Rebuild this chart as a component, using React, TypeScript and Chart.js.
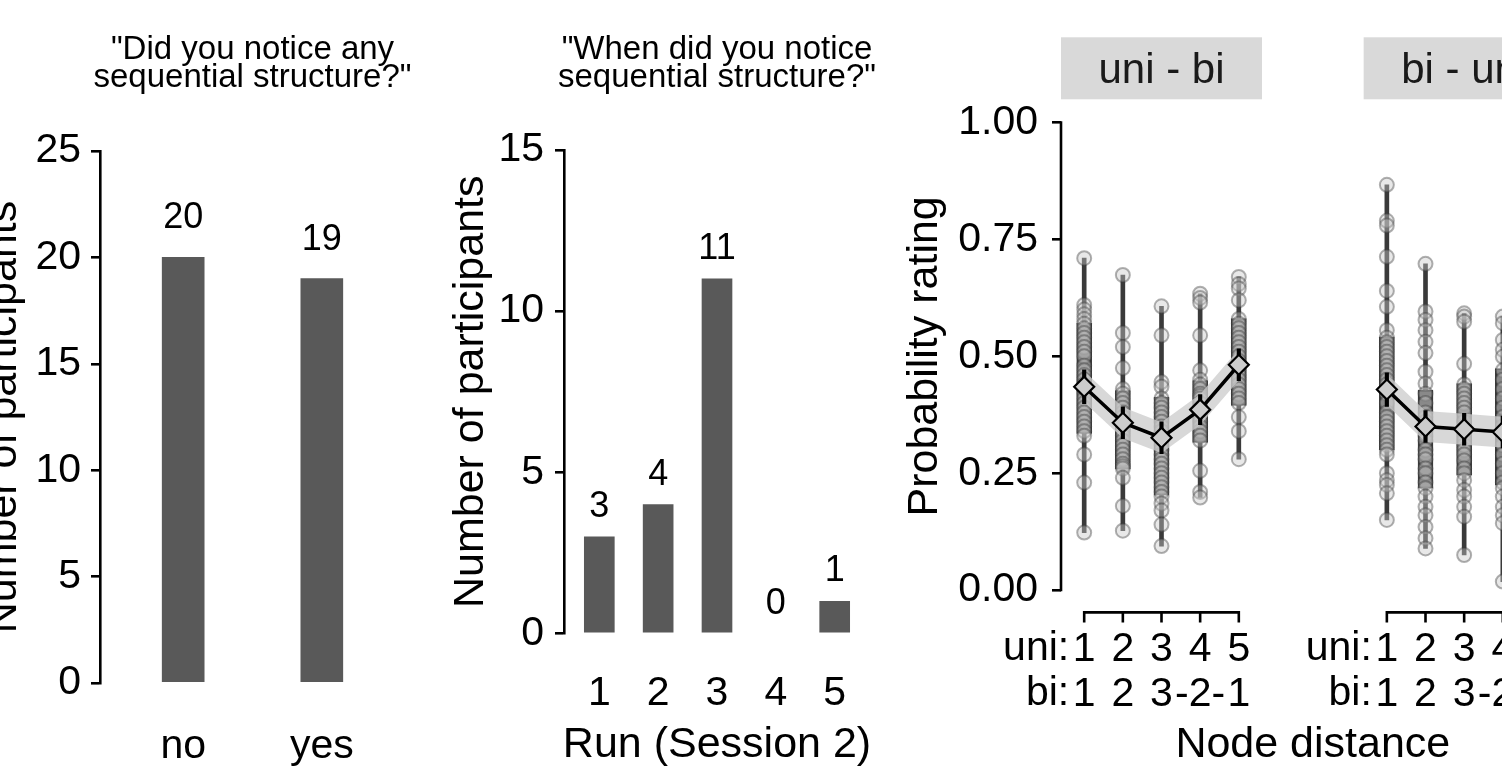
import React, { useEffect, useRef } from 'react';
import { Chart, registerables } from 'chart.js';

Chart.register(...registerables);

const FONT = '"Liberation Sans", Arial, Helvetica, sans-serif';
const BAR_GREY = '#595959';
const LW = 2.6;

// ---- Panel 1: "Did you notice any sequential structure?"
const noticeAnswers = ['no', 'yes'];
const noticeCounts = [20, 19];
const noticeTicks = [0, 5, 10, 15, 20, 25];

// ---- Panel 2: "When did you notice sequential structure?"
const runLabels = ['1', '2', '3', '4', '5'];
const runCounts = [3, 4, 11, 0, 1];
const runTicks = [0, 5, 10, 15];

// ---- Panel 3: probability rating by node distance
const facetNames = ['uni - bi', 'bi - uni'];
const distUniLabels = ['1', '2', '3', '4', '5'];
const distBiLabels = ['1', '2', '3', '-2-', '1'];
const probTicks = [0, 0.25, 0.5, 0.75, 1];

const uniBiMean = [0.435, 0.358, 0.326, 0.386, 0.482];
const uniBiSE = [0.036, 0.034, 0.034, 0.032, 0.034];
const uniBiCI = [0.033, 0.033, 0.033, 0.033, 0.033];
const uniBiQ1 = [0.335, 0.259, 0.203, 0.316, 0.395];
const uniBiQ3 = [0.571, 0.427, 0.413, 0.448, 0.581];
const uniBiMin = [0.123, 0.127, 0.094, 0.198, 0.28];
const uniBiMax = [0.71, 0.674, 0.607, 0.634, 0.67];
const uniBiPoints1 = [0.71, 0.61, 0.6, 0.59, 0.58, 0.57, 0.56, 0.55, 0.54, 0.53, 0.52, 0.51, 0.5, 0.48, 0.47, 0.46, 0.45, 0.44, 0.43, 0.42, 0.41, 0.4, 0.39, 0.38, 0.37, 0.36, 0.35, 0.34, 0.33, 0.29, 0.23, 0.123];
const uniBiPoints2 = [0.674, 0.55, 0.52, 0.475, 0.43, 0.42, 0.41, 0.4, 0.39, 0.38, 0.37, 0.36, 0.35, 0.345, 0.34, 0.33, 0.32, 0.31, 0.3, 0.29, 0.28, 0.27, 0.265, 0.26, 0.24, 0.18, 0.127];
const uniBiPoints3 = [0.607, 0.545, 0.445, 0.435, 0.41, 0.4, 0.39, 0.38, 0.37, 0.36, 0.35, 0.34, 0.32, 0.31, 0.3, 0.29, 0.28, 0.27, 0.26, 0.25, 0.24, 0.23, 0.22, 0.21, 0.2, 0.185, 0.17, 0.14, 0.094];
const uniBiPoints4 = [0.634, 0.625, 0.615, 0.545, 0.47, 0.45, 0.44, 0.43, 0.42, 0.415, 0.41, 0.4, 0.39, 0.38, 0.375, 0.37, 0.36, 0.35, 0.34, 0.33, 0.32, 0.255, 0.21, 0.198];
const uniBiPoints5 = [0.67, 0.655, 0.645, 0.62, 0.58, 0.57, 0.56, 0.55, 0.54, 0.53, 0.52, 0.51, 0.5, 0.49, 0.48, 0.47, 0.46, 0.45, 0.44, 0.43, 0.42, 0.41, 0.4, 0.37, 0.34, 0.28];

const biUniMean = [0.429, 0.35, 0.344, 0.338, 0.42];
const biUniSE = [0.036, 0.034, 0.034, 0.034, 0.034];
const biUniCI = [0.033, 0.033, 0.033, 0.033, 0.033];
const biUniQ1 = [0.3, 0.218, 0.246, 0.225, 0.33];
const biUniQ3 = [0.542, 0.428, 0.442, 0.474, 0.52];
const biUniMin = [0.15, 0.089, 0.075, 0.018, 0.22];
const biUniMax = [0.867, 0.698, 0.592, 0.585, 0.7];
const biUniPoints1 = [0.867, 0.79, 0.78, 0.713, 0.64, 0.606, 0.556, 0.54, 0.53, 0.52, 0.51, 0.5, 0.49, 0.48, 0.47, 0.46, 0.45, 0.44, 0.42, 0.4, 0.38, 0.37, 0.36, 0.35, 0.34, 0.33, 0.32, 0.31, 0.3, 0.29, 0.25, 0.235, 0.225, 0.207, 0.15];
const biUniPoints2 = [0.698, 0.596, 0.578, 0.556, 0.531, 0.507, 0.467, 0.442, 0.42, 0.4, 0.38, 0.37, 0.36, 0.34, 0.33, 0.32, 0.3, 0.29, 0.28, 0.26, 0.25, 0.23, 0.218, 0.2, 0.178, 0.16, 0.135, 0.111, 0.089];
const biUniPoints3 = [0.592, 0.585, 0.574, 0.484, 0.44, 0.43, 0.42, 0.41, 0.4, 0.39, 0.38, 0.36, 0.35, 0.34, 0.33, 0.32, 0.31, 0.3, 0.29, 0.277, 0.26, 0.25, 0.235, 0.214, 0.2, 0.178, 0.157, 0.075];
const biUniPoints4 = [0.585, 0.571, 0.535, 0.514, 0.499, 0.47, 0.45, 0.43, 0.41, 0.39, 0.37, 0.35, 0.33, 0.31, 0.29, 0.27, 0.25, 0.23, 0.218, 0.2, 0.178, 0.16, 0.143, 0.018];
const biUniPoints5 = [0.7, 0.62, 0.55, 0.52, 0.5, 0.48, 0.46, 0.44, 0.42, 0.4, 0.38, 0.36, 0.34, 0.33, 0.3, 0.26, 0.22];

// layout constant: horizontal shift (in x units) of the second facet
const FACET_SHIFT = 7.83;

const facets = [
  { mean: uniBiMean, se: uniBiSE, ci: uniBiCI, q1: uniBiQ1, q3: uniBiQ3, lo: uniBiMin, hi: uniBiMax,
    points: [uniBiPoints1, uniBiPoints2, uniBiPoints3, uniBiPoints4, uniBiPoints5] },
  { mean: biUniMean, se: biUniSE, ci: biUniCI, q1: biUniQ1, q3: biUniQ3, lo: biUniMin, hi: biUniMax,
    points: [biUniPoints1, biUniPoints2, biUniPoints3, biUniPoints4, biUniPoints5] },
];

function text(ctx: CanvasRenderingContext2D, s: string, x: number, y: number, size: number, align: CanvasTextAlign = 'center', color = '#000') {
  ctx.save();
  ctx.font = `${size}px ${FONT}`;
  ctx.fillStyle = color;
  ctx.textAlign = align;
  ctx.textBaseline = 'alphabetic';
  ctx.fillText(s, x, y);
  ctx.restore();
}

function vtext(ctx: CanvasRenderingContext2D, s: string, x: number, y: number, size: number) {
  ctx.save();
  ctx.translate(x, y);
  ctx.rotate(-Math.PI / 2);
  ctx.font = `${size}px ${FONT}`;
  ctx.fillStyle = '#000';
  ctx.textAlign = 'center';
  ctx.textBaseline = 'alphabetic';
  ctx.fillText(s, 0, 0);
  ctx.restore();
}

function yAxis(min: number, max: number, ticks: number[], width: number, padding: number, border: boolean, fmt: (v: number) => string) {
  return {
    type: 'linear', min, max, bounds: 'data',
    afterBuildTicks: (s: any) => { s.ticks = ticks.map((v) => ({ value: v })); },
    afterFit: (s: any) => { s.width = width; },
    grid: { display: true, drawOnChartArea: false, drawTicks: true, tickLength: 9, tickColor: '#000', tickWidth: LW, color: '#000', lineWidth: LW },
    border: { display: border, color: '#000', width: LW },
    ticks: { padding, color: '#000', font: { family: FONT, size: 41 }, callback: (v: any) => fmt(Number(v)) },
  };
}

function xAxis(min: number, max: number, values: number[], labels: (i: number) => any, height: number, padding: number, lineHeight: number) {
  return {
    type: 'linear', min, max, bounds: 'data', offset: false,
    afterBuildTicks: (s: any) => { s.ticks = values.map((v) => ({ value: v })); },
    afterFit: (s: any) => { s.height = height; },
    grid: { display: false, drawTicks: false, offset: false },
    border: { display: false },
    ticks: { autoSkip: false, maxRotation: 0, minRotation: 0, padding, color: '#000', font: { family: FONT, size: 41, lineHeight }, callback: (_v: any, i: number) => labels(i) },
  };
}

const baseOptions = {
  responsive: false,
  animation: false,
  events: [],
  plugins: { legend: { display: false }, tooltip: { enabled: false }, title: { display: false } },
};

function panel1Config(): any {
  const plugin = {
    id: 'panel1Text',
    afterDraw(chart: any) {
      const { ctx, chartArea: ca, scales } = chart;
      const cx = (ca.left + ca.right) / 2;
      text(ctx, '"Did you notice any', cx, 59.3, 33);
      text(ctx, 'sequential structure?"', cx, 87.3, 33);
      vtext(ctx, 'Number of participants', ca.left - 84, (ca.top + ca.bottom) / 2, 43);
      noticeCounts.forEach((c, i) => {
        text(ctx, String(c), scales.x.getPixelForValue(i + 1), scales.y.getPixelForValue(c) - 29, 36);
      });
    },
  };
  return {
    type: 'bar',
    data: {
      datasets: [{
        data: noticeAnswers.map((_, i) => ({ x: i + 1, y: noticeCounts[i] })),
        backgroundColor: BAR_GREY, barThickness: 42, grouped: false,
      }],
    },
    options: {
      ...baseOptions,
      layout: { padding: { left: 0, right: 65, top: 151, bottom: 0 } },
      scales: {
        x: xAxis(0.4, 2.6, noticeAnswers.map((_, i) => i + 1), (i) => noticeAnswers[i], 100, 39, 1.2),
        y: yAxis(0, 25, noticeTicks, 100, 10, true, (v) => String(v)),
      },
    },
    plugins: [plugin],
  };
}

function panel2Config(): any {
  const plugin = {
    id: 'panel2Text',
    afterDraw(chart: any) {
      const { ctx, chartArea: ca, scales } = chart;
      const cx = (ca.left + ca.right) / 2;
      text(ctx, '"When did you notice', cx, 59.3, 33);
      text(ctx, 'sequential structure?"', cx, 87.3, 33);
      vtext(ctx, 'Number of participants', ca.left - 81, (ca.top + ca.bottom) / 2, 43);
      text(ctx, 'Run (Session 2)', cx, 757, 43);
      runCounts.forEach((c, i) => {
        text(ctx, String(c), scales.x.getPixelForValue(i + 1), scales.y.getPixelForValue(c) - 20, 36);
      });
    },
  };
  return {
    type: 'bar',
    data: {
      datasets: [{
        // a zero count has no visible bar
        data: runLabels.map((_, i) => ({ x: i + 1, y: runCounts[i] === 0 ? null : runCounts[i] })),
        backgroundColor: BAR_GREY, barThickness: 30, grouped: false,
      }],
    },
    options: {
      ...baseOptions,
      layout: { padding: { left: 0, right: 20, top: 150, bottom: 0 } },
      scales: {
        x: xAxis(0.4, 5.6, runLabels.map((_, i) => i + 1), (i) => runLabels[i], 149.5, 36, 1.2),
        y: yAxis(0, 15, runTicks, 134, 11, true, (v) => String(v)),
      },
    },
    plugins: [plugin],
  };
}

function panel3Config(): any {
  const datasets: any[] = [];
  facets.forEach((f, fi) => {
    const sh = fi * FACET_SHIFT;
    const xs = f.mean.map((_, i) => i + 1 + sh);
    datasets.push({ type: 'bar', data: xs.map((x, i) => ({ x, y: [f.lo[i], f.hi[i]] })), backgroundColor: '#3a3a3a', barThickness: 4, grouped: false, order: 7 });
    datasets.push({ type: 'bar', data: xs.map((x, i) => ({ x, y: [f.q1[i], f.q3[i]] })), backgroundColor: '#5c5c5c', borderColor: '#383838', borderWidth: 2, borderSkipped: false, barThickness: 15, grouped: false, order: 6 });
    datasets.push({ type: 'scatter', data: f.points.flatMap((arr, i) => arr.map((v) => ({ x: xs[i], y: v }))), pointRadius: 7, pointBackgroundColor: 'rgba(200,200,200,0.42)', pointBorderColor: 'rgba(60,60,60,0.4)', pointBorderWidth: 2, order: 5 });
    datasets.push({ type: 'line', data: xs.map((x, i) => ({ x, y: f.mean[i] - f.ci[i] })), pointRadius: 0, borderWidth: 0, fill: false, order: 4 });
    datasets.push({ type: 'line', data: xs.map((x, i) => ({ x, y: f.mean[i] + f.ci[i] })), pointRadius: 0, borderWidth: 0, fill: '-1', backgroundColor: 'rgba(205,205,205,0.78)', order: 4 });
    datasets.push({ type: 'bar', data: xs.map((x, i) => ({ x, y: [f.mean[i] - f.se[i], f.mean[i] + f.se[i]] })), backgroundColor: '#000', barThickness: 3.5, grouped: false, order: 3 });
    datasets.push({ type: 'line', data: xs.map((x, i) => ({ x, y: f.mean[i] })), borderColor: '#000', borderWidth: 3.5, tension: 0, pointStyle: 'rectRot', pointRadius: 10, pointBackgroundColor: '#cccccc', pointBorderColor: '#000', pointBorderWidth: 2.2, order: 1 });
  });

  const tickValues: number[] = [];
  facets.forEach((_, fi) => distUniLabels.forEach((__, i) => tickValues.push(i + 1 + fi * FACET_SHIFT)));

  const plugin = {
    id: 'panel3Text',
    afterDraw(chart: any) {
      const { ctx, chartArea: ca, scales } = chart;
      const X = scales.x, Y = scales.y;
      // y axis line (bracket from 0 to 1)
      ctx.save();
      ctx.strokeStyle = '#000';
      ctx.lineWidth = LW;
      ctx.beginPath();
      ctx.moveTo(ca.left, Y.getPixelForValue(1) - LW / 2);
      ctx.lineTo(ca.left, Y.getPixelForValue(0) + LW / 2);
      ctx.stroke();
      ctx.restore();
      facetNames.forEach((name, fi) => {
        const sh = fi * FACET_SHIFT;
        const l = X.getPixelForValue(0.4 + sh), r = X.getPixelForValue(5.6 + sh);
        ctx.save();
        ctx.fillStyle = '#d9d9d9';
        ctx.fillRect(l, 37.3, r - l, 62);
        ctx.restore();
        text(ctx, name, (l + r) / 2, 83.3, 42, 'center', '#1a1a1a');
        // bracket x axis
        const y0 = ca.bottom - 1;
        const x1 = X.getPixelForValue(1 + sh), x5 = X.getPixelForValue(5 + sh);
        ctx.save();
        ctx.strokeStyle = '#000';
        ctx.lineWidth = LW;
        ctx.beginPath();
        ctx.moveTo(x1 - LW / 2, y0);
        ctx.lineTo(x5 + LW / 2, y0);
        distUniLabels.forEach((_, i) => {
          const px = X.getPixelForValue(i + 1 + sh);
          ctx.moveTo(px, y0);
          ctx.lineTo(px, y0 + 10);
        });
        ctx.stroke();
        ctx.restore();
        text(ctx, 'uni:', x1 - 15, 660, 41, 'right');
        text(ctx, 'bi:', x1 - 15, 705, 41, 'right');
      });
      const cx = (X.getPixelForValue(0.4) + X.getPixelForValue(5.6 + FACET_SHIFT)) / 2;
      text(ctx, 'Node distance', cx, 757, 43);
      vtext(ctx, 'Probability rating', ca.left - 124, (ca.top + ca.bottom) / 2, 43);
    },
  };

  return {
    type: 'bar',
    data: { datasets },
    options: {
      ...baseOptions,
      layout: { padding: { left: 0, right: 36.5, top: 99.3, bottom: 0 } },
      scales: {
        x: xAxis(0.4, 13.4, tickValues, (i) => [distUniLabels[i % 5], distBiLabels[i % 5]], 169.6, 14, 45 / 41),
        y: yAxis(-0.05, 1.05, probTicks, 171, 14, false, (v) => v.toFixed(2)),
      },
    },
    plugins: [plugin],
  };
}

export default function App() {
  const r1 = useRef<HTMLCanvasElement>(null);
  const r2 = useRef<HTMLCanvasElement>(null);
  const r3 = useRef<HTMLCanvasElement>(null);
  useEffect(() => {
    const charts = [
      new Chart(r1.current as HTMLCanvasElement, panel1Config()),
      new Chart(r2.current as HTMLCanvasElement, panel2Config()),
      new Chart(r3.current as HTMLCanvasElement, panel3Config()),
    ];
    return () => charts.forEach((c) => c.destroy());
  }, []);
  return (
    <div style={{ position: 'fixed', left: 0, top: 0, width: 1502, height: 783, overflow: 'hidden', background: '#fff' }}>
      <canvas ref={r1} width={470} height={783} style={{ position: 'absolute', left: 0, top: 0, width: 470, height: 783 }} />
      <canvas ref={r2} width={460} height={783} style={{ position: 'absolute', left: 430, top: 0, width: 460, height: 783 }} />
      <canvas ref={r3} width={710} height={783} style={{ position: 'absolute', left: 890, top: 0, width: 710, height: 783 }} />
    </div>
  );
}
